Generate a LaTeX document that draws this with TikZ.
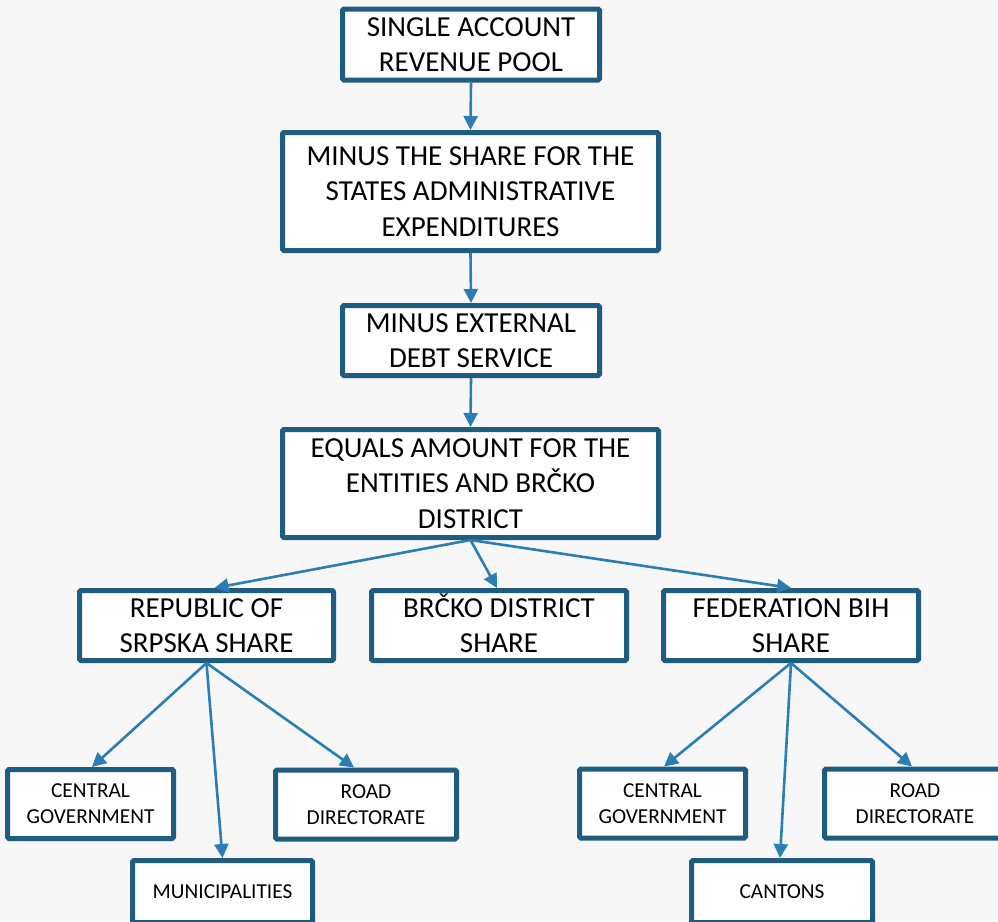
\documentclass[tikz,border=0pt]{standalone}
\usepackage{fontspec}
\setmainfont{Carlito}
\usetikzlibrary{arrows.meta}
\definecolor{bordc}{HTML}{1F5C80}
\definecolor{arrc}{HTML}{2A7DB5}
\definecolor{bgc}{HTML}{F7F7F7}
\tikzset{
  bigbox/.style={draw=bordc, line width=5pt, fill=white, rounded corners=1.5pt,
    align=center, inner sep=0pt, font=\fontsize{29}{35.5}\selectfont},
  smallbox/.style={draw=bordc, line width=5pt, fill=white, rounded corners=1.5pt,
    align=center, inner sep=0pt, font=\fontsize{21.3}{26}\selectfont},
  conn/.style={draw=arrc, line width=2.6pt, -{Triangle[length=14pt,width=14pt]}}
}
\begin{document}
\begin{tikzpicture}[x=1pt,y=-1pt]
\useasboundingbox (0,0) rectangle (998,921);
\fill[bgc] (0,0) rectangle (998,921);
\clip (0,0) rectangle (998,921);
\node[bigbox, minimum width=257pt, minimum height=71pt] (n1) at (471,44.5) {SINGLE ACCOUNT\\REVENUE POOL};
\node[bigbox, minimum width=376pt, minimum height=118pt] (n2) at (470.5,191.5) {MINUS THE SHARE FOR THE\\STATES ADMINISTRATIVE\\EXPENDITURES};
\node[bigbox, minimum width=257pt, minimum height=70pt] (n3) at (471,340.5) {MINUS EXTERNAL\\DEBT SERVICE};
\node[bigbox, minimum width=376pt, minimum height=108pt] (n4) at (470.5,483.5) {EQUALS AMOUNT FOR THE\\ENTITIES AND BRČKO\\DISTRICT};
\node[bigbox, minimum width=254pt, minimum height=70pt] (n5) at (206.5,625.5) {REPUBLIC OF\\SRPSKA SHARE};
\node[bigbox, minimum width=255pt, minimum height=70pt] (n6) at (499,625.5) {BR\smash{Č}KO DISTRICT\\SHARE};
\node[bigbox, minimum width=255pt, minimum height=70pt] (n7) at (791,625.5) {FEDERATION BIH\\SHARE};
\node[smallbox, minimum width=166pt, minimum height=69pt] (n8) at (90.5,804) {CENTRAL\\GOVERNMENT};
\node[smallbox, minimum width=180pt, minimum height=62pt] (n9) at (222.5,891.5) {MUNICIPALITIES};
\node[smallbox, minimum width=181pt, minimum height=69pt] (n10) at (366,804.5) {ROAD\\DIRECTORATE};
\node[smallbox, minimum width=166pt, minimum height=69pt] (n11) at (662.5,803.5) {CENTRAL\\GOVERNMENT};
\node[smallbox, minimum width=181pt, minimum height=62pt] (n12) at (782,891.5) {CANTONS};
\node[smallbox, minimum width=181pt, minimum height=69pt] (n13) at (915,803.5) {ROAD\\DIRECTORATE};
\draw[conn] (n1.south) -- (n2.north);
\draw[conn] (n2.south) -- (n3.north);
\draw[conn] (n3.south) -- (n4.north);
\draw[conn] (n4.south) -- ([xshift=8pt]n5.north);
\draw[conn] (n4.south) -- ([xshift=-2pt]n6.north);
\draw[conn] (n4.south) -- (n7.north);
\draw[conn] (n5.south) -- ([xshift=1.5pt]n8.north);
\draw[conn] (n5.south) -- (n9.north);
\draw[conn] (n5.south) -- ([xshift=-12pt]n10.north);
\draw[conn] (n7.south) -- ([xshift=1.5pt]n11.north);
\draw[conn] (n7.south) -- ([xshift=-2pt]n12.north);
\draw[conn] (n7.south) -- ([xshift=-3pt]n13.north);
\end{tikzpicture}
\end{document}
